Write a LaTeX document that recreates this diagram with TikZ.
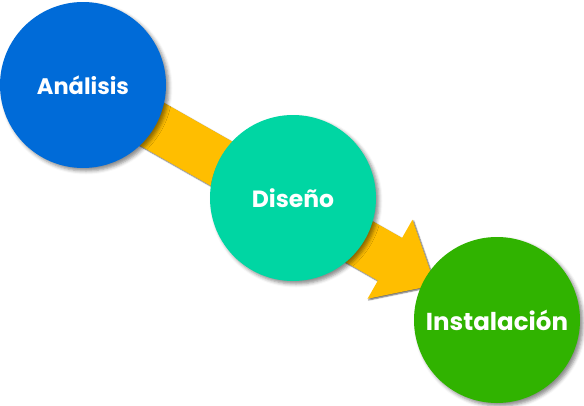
\documentclass[tikz,border=0pt]{standalone}
\usepackage{fontspec}
\setmainfont{Poppins}[BoldFont={* Bold}]
\usetikzlibrary{calc,shadows.blur,backgrounds}
\definecolor{cblue}{RGB}{0,107,216}
\definecolor{cteal}{RGB}{0,214,163}
\definecolor{cgreen}{RGB}{48,179,0}
\definecolor{cyellow}{RGB}{255,190,0}
\tikzset{
  phase/.style={circle,minimum size=166pt,inner sep=0pt,text=white,
    font=\bfseries,
    blur shadow={shadow xshift=3pt,shadow yshift=-3pt,shadow blur radius=3.5pt,shadow opacity=45}},
  flow/.style={fill=cyellow,
    blur shadow={shadow xshift=1.2pt,shadow yshift=-1.2pt,shadow blur radius=1.2pt,shadow opacity=60}}
}
\begin{document}
\begin{tikzpicture}[x=1pt,y=-1pt]
\useasboundingbox (0,0) rectangle (584,405);
\node[phase,fill=cblue] (A) at (83,85) {\fontsize{22.5}{26}\selectfont Análisis};
\node[phase,fill=cteal] (D) at (293,198) {\fontsize{23.5}{28}\selectfont Diseño};
\node[phase,fill=cgreen] (I) at (497,320) {\fontsize{24.5}{30}\selectfont Instalación};
\begin{scope}[on background layer]
\coordinate (hb) at ($(A.center)!353pt!(I.center)$);
\coordinate (tip) at ($(A.center)!405pt!(I.center)$);
\path[flow] ($(A.center)!24.5pt!90:(tip)$) -- ($(hb)!24.5pt!90:(tip)$)
  -- ($(hb)!45.5pt!90:(tip)$) -- (tip) -- ($(hb)!45.5pt!-90:(tip)$)
  -- ($(hb)!24.5pt!-90:(tip)$) -- ($(A.center)!24.5pt!-90:(tip)$) -- cycle;
\end{scope}
\end{tikzpicture}
\end{document}
